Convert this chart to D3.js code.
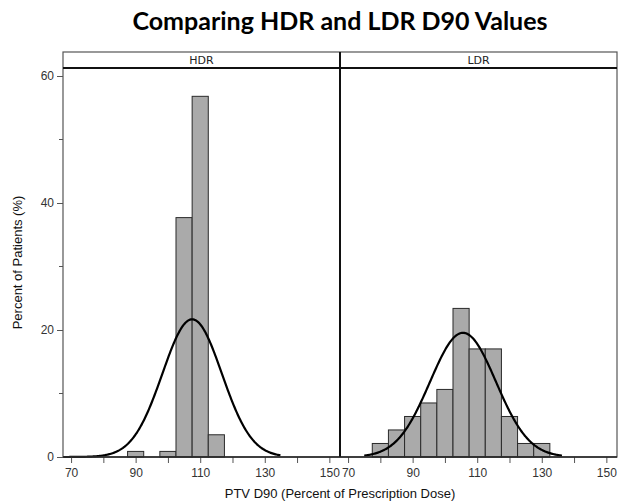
<!DOCTYPE html>
<html>
<head>
<meta charset="utf-8">
<script src="https://cdn.jsdelivr.net/npm/d3@7"></script>
<style>
  body { margin: 0; background: #fff; }
  svg { display: block; }
  .axis text { font-family: "Liberation Sans", Arial, sans-serif; font-size: 12px; fill: #333; }
  .axis path, .axis line { stroke: #555; }
</style>
</head>
<body>
<svg width="619" height="503"></svg>
<script>
// histogram data, percent of patients per 5-unit bin (bin centres)
var panels = ["HDR", "LDR"];
var hdrBins = [90, 100, 105, 110, 115];
var hdrPct = [0.88, 0.88, 37.7, 56.8, 3.5];
var ldrBins = [80, 85, 90, 95, 100, 105, 110, 115, 120, 125, 130];
var ldrPct = [2.13, 4.26, 6.38, 8.51, 10.64, 23.4, 17.02, 17.02, 6.38, 2.13, 2.13];
// fitted normal curves: mean, sd, drawn range
var hdrFit = [107.5, 9.2, 67.6, 135];
var ldrFit = [105.6, 10.2, 75, 136.3];
var xTicks = [70, 80, 90, 100, 110, 120, 130, 140, 150];
var yTicks = [0, 20, 40, 60];
var yMinor = [10, 30, 50];
var binW = 5;

var svg = d3.select("svg");
var pLeft = 63, pRight = 617, stripTop = 52, pTop = 68, pBottom = 457;
var pw = (pRight - pLeft) / 2;

var y = d3.scaleLinear().domain([0, 61.26]).range([pBottom, pTop]);

svg.append("text")
  .attr("x", 340).attr("y", 30)
  .attr("text-anchor", "middle")
  .style("font-family", "Lato, 'Open Sans', sans-serif")
  .style("font-weight", "bold")
  .style("font-size", "25px")
  .text("Comparing HDR and LDR D90 Values");

var data = [
  {bins: hdrBins, pct: hdrPct, fit: hdrFit},
  {bins: ldrBins, pct: ldrPct, fit: ldrFit}
];

panels.forEach(function(name, i) {
  var x0 = pLeft + i * pw;
  var x = d3.scaleLinear().domain([67.5, 153.3]).range([x0, x0 + pw]);
  var g = svg.append("g");
  var d = data[i];

  g.selectAll("rect.bar")
    .data(d.bins)
    .enter().append("rect")
      .attr("class", "bar")
      .attr("x", function(b) { return x(b - binW / 2); })
      .attr("width", function(b) { return x(b + binW / 2) - x(b - binW / 2); })
      .attr("y", function(b, j) { return y(d.pct[j]); })
      .attr("height", function(b, j) { return pBottom - y(d.pct[j]); })
      .attr("fill", "#aaaaaa")
      .attr("stroke", "#2a2a2a")
      .attr("stroke-width", 1);

  var mu = d.fit[0], sd = d.fit[1];
  var pts = d3.range(d.fit[2], d.fit[3] + 0.01, 0.25).map(function(v) {
    var p = 100 * binW / (sd * Math.sqrt(2 * Math.PI)) * Math.exp(-0.5 * Math.pow((v - mu) / sd, 2));
    return [v, p];
  });
  g.append("path")
    .datum(pts)
    .attr("fill", "none")
    .attr("stroke", "#000")
    .attr("stroke-width", 2.2)
    .attr("d", d3.line().x(function(p) { return x(p[0]); }).y(function(p) { return y(p[1]); }));

  g.append("g")
    .attr("class", "axis")
    .attr("transform", "translate(0," + pBottom + ")")
    .call(d3.axisBottom(x).tickValues(xTicks).tickSize(6).tickPadding(5)
      .tickFormat(function(v) { return (v - 70) % 20 == 0 ? v : ""; }))
    .call(function(a) { a.select(".domain").remove(); });

  // strip
  svg.append("text")
    .attr("x", x0 + pw / 2).attr("y", stripTop + 12)
    .attr("text-anchor", "middle")
    .style("font-family", "'DejaVu Sans', sans-serif")
    .style("font-size", "11px")
    .attr("fill", "#222")
    .text(name);
});

// y axis
var ya = svg.append("g").attr("class", "axis").attr("transform", "translate(" + pLeft + ",0)");
ya.call(d3.axisLeft(y).tickValues(yTicks).tickSize(6).tickPadding(3));
ya.select(".domain").remove();
ya.selectAll(".minor").data(yMinor).enter().append("line")
  .attr("x1", -4).attr("x2", 0)
  .attr("y1", function(v) { return y(v); }).attr("y2", function(v) { return y(v); })
  .attr("stroke", "#555");

// frame
svg.append("rect")
  .attr("x", pLeft).attr("y", stripTop)
  .attr("width", pRight - pLeft).attr("height", pBottom - stripTop)
  .attr("fill", "none").attr("stroke", "#555").attr("stroke-width", 1.2);
svg.append("line")
  .attr("x1", pLeft).attr("x2", pRight).attr("y1", pTop).attr("y2", pTop)
  .attr("stroke", "#111").attr("stroke-width", 2);
svg.append("line")
  .attr("x1", pLeft + pw).attr("x2", pLeft + pw).attr("y1", stripTop).attr("y2", pBottom)
  .attr("stroke", "#111").attr("stroke-width", 2);
svg.append("line")
  .attr("x1", pLeft).attr("x2", pRight).attr("y1", pBottom).attr("y2", pBottom)
  .attr("stroke", "#222").attr("stroke-width", 1.5);

// axis titles
svg.append("text")
  .attr("transform", "translate(22," + ((pTop + pBottom) / 2) + ") rotate(-90)")
  .attr("text-anchor", "middle")
  .style("font-family", "'Liberation Sans', Arial, sans-serif")
  .style("font-size", "13px")
  .attr("fill", "#111")
  .text("Percent of Patients (%)");
svg.append("text")
  .attr("x", 340).attr("y", 498)
  .attr("text-anchor", "middle")
  .style("font-family", "'Liberation Sans', Arial, sans-serif")
  .style("font-size", "13px")
  .attr("fill", "#111")
  .text("PTV D90 (Percent of Prescription Dose)");
</script>
</body>
</html>
